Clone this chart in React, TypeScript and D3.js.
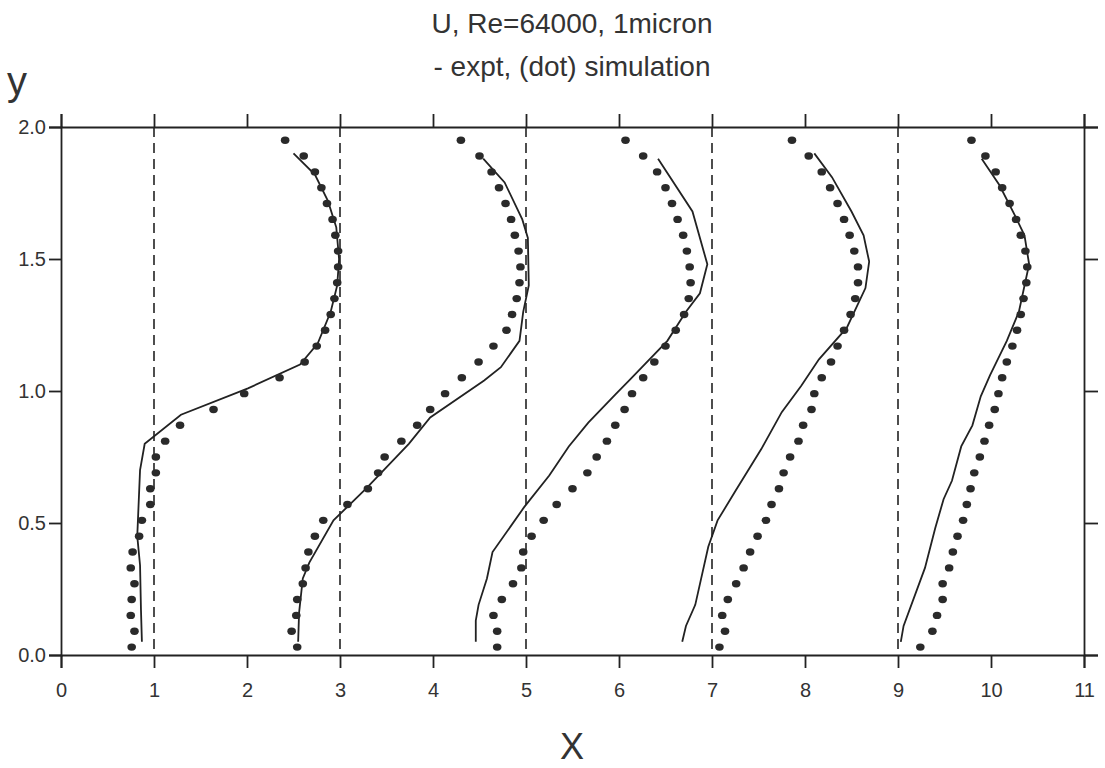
import React, { useEffect, useRef } from "react"
import * as d3 from "d3"

// chart labels
const title1 = "U, Re=64000, 1micron"
const title2 = "- expt, (dot) simulation"

// axis ticks
const xTicks = [0, 1, 2, 3, 4, 5, 6, 7, 8, 9, 10, 11]
const yTicks = [0, 0.5, 1, 1.5, 2]

// measuring stations (dashed reference lines)
const stations = [1, 3, 5, 7, 9]

// y levels of the simulation dots, shared by every station
const dotY = [0.03, 0.09, 0.15, 0.21, 0.27, 0.33, 0.39, 0.45, 0.51, 0.57, 0.63, 0.69, 0.75, 0.81, 0.87, 0.93, 0.99,
  1.05, 1.11, 1.17, 1.23, 1.29, 1.35, 1.41, 1.47, 1.53, 1.59, 1.65, 1.71, 1.77, 1.83, 1.89, 1.95]

// simulation (dots), plotted x position at each dotY
const sim1 = [0.76, 0.79, 0.75, 0.76, 0.79, 0.75, 0.77, 0.84, 0.87, 0.96, 0.96, 1.02, 1.02, 1.12, 1.28, 1.64, 1.97,
  2.35, 2.62, 2.75, 2.84, 2.90, 2.94, 2.97, 2.98, 2.98, 2.95, 2.92, 2.86, 2.80, 2.73, 2.61, 2.41]
const sim2 = [2.54, 2.48, 2.53, 2.54, 2.60, 2.63, 2.66, 2.73, 2.82, 3.08, 3.30, 3.41, 3.48, 3.66, 3.83, 3.97, 4.13,
  4.31, 4.49, 4.65, 4.79, 4.85, 4.90, 4.93, 4.94, 4.92, 4.88, 4.84, 4.78, 4.71, 4.63, 4.50, 4.30]
const sim3 = [4.69, 4.69, 4.65, 4.74, 4.86, 4.95, 4.97, 5.06, 5.19, 5.33, 5.50, 5.66, 5.76, 5.87, 5.96, 6.06, 6.14,
  6.26, 6.38, 6.50, 6.61, 6.70, 6.75, 6.77, 6.76, 6.73, 6.69, 6.63, 6.57, 6.50, 6.41, 6.26, 6.07]
const sim4 = [7.08, 7.14, 7.11, 7.17, 7.26, 7.34, 7.41, 7.49, 7.58, 7.64, 7.72, 7.77, 7.84, 7.93, 7.98, 8.07, 8.10,
  8.18, 8.28, 8.35, 8.42, 8.49, 8.54, 8.57, 8.57, 8.53, 8.48, 8.42, 8.35, 8.27, 8.18, 8.04, 7.86]
const sim5 = [9.24, 9.37, 9.42, 9.48, 9.48, 9.55, 9.59, 9.64, 9.70, 9.74, 9.78, 9.82, 9.88, 9.93, 9.98, 10.04, 10.08,
  10.12, 10.17, 10.23, 10.28, 10.32, 10.35, 10.38, 10.39, 10.37, 10.32, 10.27, 10.20, 10.12, 10.05, 9.94, 9.79]

// experiment (solid lines), [x, y]
const expt1 = [[0.87, 0.05], [0.86, 0.17], [0.85, 0.34], [0.82, 0.45], [0.85, 0.70], [0.90, 0.80], [1.29, 0.91],
  [2.01, 1.01], [2.57, 1.10], [2.76, 1.18], [2.90, 1.30], [2.97, 1.40], [2.99, 1.50], [2.96, 1.62], [2.87, 1.72],
  [2.73, 1.82], [2.50, 1.90]]
const expt2 = [[2.55, 0.05], [2.56, 0.16], [2.60, 0.29], [2.67, 0.35], [2.93, 0.51], [3.28, 0.63], [3.74, 0.80],
  [3.97, 0.90], [4.55, 1.04], [4.73, 1.09], [4.93, 1.19], [4.97, 1.30], [5.03, 1.40], [5.02, 1.58], [4.96, 1.65],
  [4.77, 1.79], [4.54, 1.88]]
const expt3 = [[4.46, 0.05], [4.46, 0.13], [4.49, 0.19], [4.58, 0.29], [4.64, 0.39], [4.98, 0.56], [5.25, 0.68],
  [5.46, 0.79], [5.67, 0.88], [5.97, 0.99], [6.11, 1.04], [6.52, 1.19], [6.72, 1.30], [6.87, 1.37], [6.95, 1.48],
  [6.79, 1.68], [6.42, 1.88]]
const expt4 = [[6.68, 0.05], [6.72, 0.11], [6.82, 0.19], [6.96, 0.41], [7.06, 0.51], [7.25, 0.62], [7.53, 0.78],
  [7.75, 0.92], [7.96, 1.02], [8.15, 1.12], [8.45, 1.24], [8.65, 1.39], [8.69, 1.49], [8.63, 1.59], [8.50, 1.68],
  [8.29, 1.81], [8.10, 1.90]]
const expt5 = [[9.03, 0.05], [9.06, 0.11], [9.29, 0.33], [9.40, 0.48], [9.49, 0.59], [9.58, 0.66], [9.68, 0.79],
  [9.80, 0.87], [9.89, 0.98], [9.99, 1.06], [10.17, 1.19], [10.30, 1.30], [10.41, 1.48], [10.36, 1.59],
  [10.25, 1.67], [10.09, 1.78], [9.90, 1.88]]

const font = "'Liberation Sans', Arial, Helvetica, sans-serif"
const ink = "#222"

export default function App() {
  const ref = useRef<SVGSVGElement>(null)

  useEffect(() => {
    const svg = d3.select(ref.current)
    svg.selectAll("*").remove()

    const x = d3.scaleLinear().domain([0, 11]).range([61, 1084])
    const y = d3.scaleLinear().domain([0, 2]).range([655, 127])

    const styleAxis = (g: any) => {
      g.attr("color", ink).attr("font-family", font).attr("font-size", 20)
      g.selectAll("path, line").attr("stroke-width", 1.8)
      g.selectAll("text").attr("fill", "#333")
    }

    // four framing axes; ticks at the ends give the little overhangs
    svg.append("g")
      .attr("transform", `translate(0,${y(0)})`)
      .call(d3.axisBottom(x).tickValues(xTicks).tickSize(13).tickPadding(15).tickFormat(d3.format("d")))
      .call(styleAxis)

    svg.append("g")
      .attr("transform", `translate(0,${y(2)})`)
      .call(d3.axisTop(x).tickValues(xTicks).tickSize(13).tickFormat(() => ""))
      .call(styleAxis)

    svg.append("g")
      .attr("transform", `translate(${x(0)},0)`)
      .call(d3.axisLeft(y).tickValues(yTicks).tickSize(12).tickPadding(3).tickFormat(d3.format(".1f")))
      .call(styleAxis)

    svg.append("g")
      .attr("transform", `translate(${x(11)},0)`)
      .call(d3.axisRight(y).tickValues(yTicks).tickSize(14).tickFormat(() => ""))
      .call(styleAxis)

    // dashed station lines
    svg.append("g")
      .selectAll("line")
      .data(stations)
      .enter().append("line")
      .attr("x1", d => x(d)).attr("x2", d => x(d))
      .attr("y1", y(2)).attr("y2", y(0))
      .attr("stroke", ink)
      .attr("stroke-width", 1.6)
      .attr("stroke-dasharray", "10,6")

    // experiment lines
    const line = d3.line<number[]>()
      .x(d => x(d[0]))
      .y(d => y(d[1]))

    svg.append("g")
      .selectAll("path")
      .data([expt1, expt2, expt3, expt4, expt5])
      .enter().append("path")
      .attr("d", line)
      .attr("fill", "none")
      .attr("stroke", ink)
      .attr("stroke-width", 1.8)

    // simulation dots
    const sims = [sim1, sim2, sim3, sim4, sim5]
    const dots = sims.flatMap(s => s.map((v, i) => [v, dotY[i]]))
    svg.append("g")
      .selectAll("ellipse")
      .data(dots)
      .enter().append("ellipse")
      .attr("cx", d => x(d[0]))
      .attr("cy", d => y(d[1]))
      .attr("rx", 4.3)
      .attr("ry", 3.7)
      .attr("fill", "#2a2a2a")

    // titles
    svg.append("text")
      .attr("x", 572).attr("y", 33)
      .attr("text-anchor", "middle")
      .attr("font-family", font).attr("font-size", 28)
      .attr("fill", "#333")
      .text(title1)
    svg.append("text")
      .attr("x", 572).attr("y", 76)
      .attr("text-anchor", "middle")
      .attr("font-family", font).attr("font-size", 28)
      .attr("fill", "#333")
      .text(title2)

    // axis names
    svg.append("text")
      .attr("x", 7).attr("y", 95)
      .attr("font-family", font).attr("font-size", 40)
      .attr("fill", "#333")
      .text("y")
    svg.append("text")
      .attr("x", 572).attr("y", 759)
      .attr("text-anchor", "middle")
      .attr("font-family", font).attr("font-size", 36)
      .attr("fill", "#333")
      .text("X")
  }, [])

  return (
    <svg ref={ref} width={1105} height={768}
      style={{ position: "absolute", left: 0, top: 0, background: "#fff" }} />
  )
}
